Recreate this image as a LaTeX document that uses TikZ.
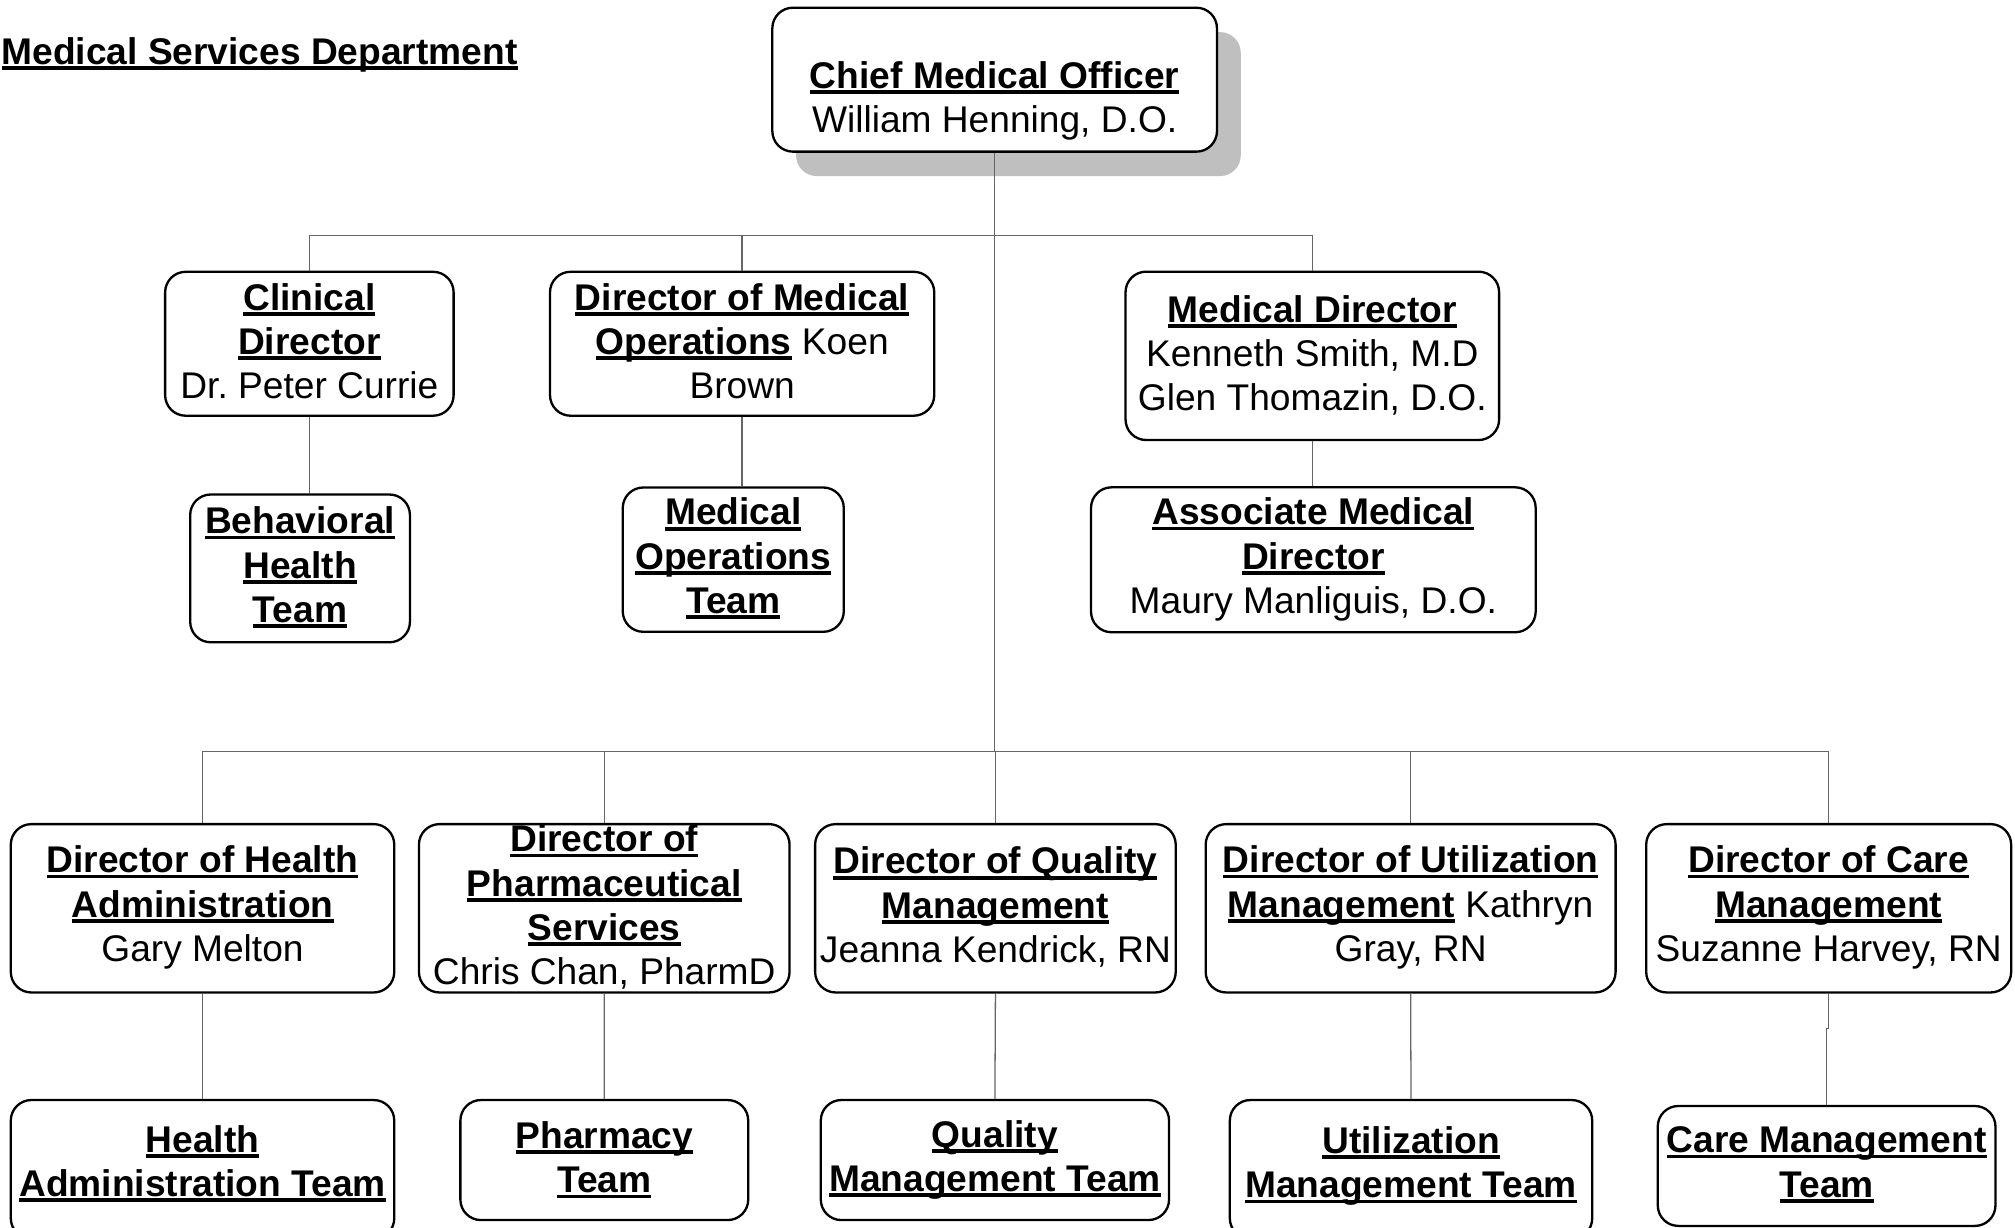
\documentclass[tikz,border=0pt]{standalone}
\usepackage{fontspec}
\setmainfont{Liberation Sans}
\frenchspacing
\newsavebox\ulbox
\newcommand\ulx[1]{\sbox\ulbox{\bfseries #1}\rlap{\rule[-0.15em]{\wd\ulbox}{0.1em}}\usebox\ulbox}
\newcommand\lnstrut{\rule[-3.95pt]{0pt}{34.5pt}}
\begin{document}
\frenchspacing
\begin{tikzpicture}[x=1pt,y=-1pt,
  box/.style={draw=black, line width=1.8pt, rounded corners=16pt, fill=white, inner sep=0pt},
  shadowbox/.style={fill=black!25, rounded corners=16pt, inner sep=0pt},
  txt/.style={inner sep=0pt, align=center, yshift=-2.7pt, font=\fontsize{28.9pt}{34.5pt}\selectfont\frenchspacing,
    execute at begin node={\lnstrut}, execute at end node={\lnstrut}},
  conn/.style={draw=black!60, line width=1pt}]
\clip (0,0) rectangle (1568,955);
\fill[white] (0,0) rectangle (1568,955);

% title
\node[txt, anchor=west] (title) at (1,35.3) {\ulx{Medical Services Department}};

% CMO
\node[shadowbox, minimum width=346, minimum height=112] (cmosh) at (792.5,81) {};
\node[box, minimum width=346, minimum height=112] (cmo) at (774,62) {};
\node[txt] (cmot) at (774,76) {\ulx{Chief Medical Officer}\\William Henning, D.O.};

% second level
\node[box, minimum width=224.5, minimum height=112] (clin) at (240.75,267.5) {};
\node[txt] (clint) at (240.75,264.6) {\ulx{Clinical}\\\ulx{Director}\\Dr. Peter Currie};

\node[box, minimum width=299, minimum height=112] (dmo) at (577.5,267.5) {};
\node[txt] (dmot) at (577.5,264.6) {\ulx{Director of Medical}\\\ulx{Operations} Koen\\Brown};

\node[box, minimum width=290.7, minimum height=131] (meddir) at (1021.2,276.9) {};
\node[txt] (meddirt) at (1021.2,274) {\ulx{Medical Director}\\Kenneth Smith, M.D\\Glen Thomazin, D.O.};

% third level
\node[box, minimum width=171, minimum height=115] (beh) at (233.5,442.3) {};
\node[txt] (beht) at (233.5,438.8) {\ulx{Behavioral}\\\ulx{Health}\\\ulx{Team}};

\node[box, minimum width=172, minimum height=112.3] (mot) at (570.6,435.5) {};
\node[txt] (mott) at (570.6,432) {\ulx{Medical}\\\ulx{Operations}\\\ulx{Team}};

\node[box, minimum width=346, minimum height=112.8] (assoc) at (1022,435.6) {};
\node[txt] (assoct) at (1022,432.8) {\ulx{Associate Medical}\\\ulx{Director}\\Maury Manliguis, D.O.};

% bottom directors
\node[box, minimum width=298.4, minimum height=131] (ha) at (157.6,706.8) {};
\node[txt] (hat) at (157.6,703.4) {\ulx{Director of Health}\\\ulx{Administration}\\Gary Melton};

\node[box, minimum width=288.4, minimum height=131] (ph) at (470.2,706.8) {};
\node[txt] (pht) at (470.2,703.4) {\ulx{Director of}\\\ulx{Pharmaceutical}\\\ulx{Services}\\Chris Chan, PharmD};

\node[box, minimum width=280.6, minimum height=131] (qm) at (774.6,706.8) {};
\node[txt] (qmt) at (774.6,703.4) {\ulx{Director of Quality}\\\ulx{Management}\\Jeanna Kendrick, RN};

\node[box, minimum width=319, minimum height=131] (um) at (1097.7,706.8) {};
\node[txt] (umt) at (1097.7,703.4) {\ulx{Director of Utilization}\\\ulx{Management} Kathryn\\Gray, RN};

\node[box, minimum width=284, minimum height=131] (cm) at (1423,706.8) {};
\node[txt] (cmt) at (1423,703.4) {\ulx{Director of Care}\\\ulx{Management}\\Suzanne Harvey, RN};

% teams
\node[box, minimum width=298.4, minimum height=108] (hateam) at (157.6,910) {};
\node[txt] (hateamt) at (157.6,902.8) {\ulx{Health}\\\ulx{Administration Team}};

\node[box, minimum width=224, minimum height=93.4] (phteam) at (470.25,902.7) {};
\node[txt] (phteamt) at (470.25,899.9) {\ulx{Pharmacy}\\\ulx{Team}};

\node[box, minimum width=271, minimum height=93.4] (qmteam) at (774.2,902.7) {};
\node[txt] (qmteamt) at (774.2,899.9) {\ulx{Quality}\\\ulx{Management Team}};

\node[box, minimum width=282, minimum height=108] (umteam) at (1098,910) {};
\node[txt] (umteamt) at (1098,904.6) {\ulx{Utilization}\\\ulx{Management Team}};

\node[box, minimum width=262.8, minimum height=93.3] (cmteam) at (1421.4,907.3) {};
\node[txt] (cmteamt) at (1421.4,903.7) {\ulx{Care Management}\\\ulx{Team}};

% connectors
\coordinate (busU) at (774,183.4);
\coordinate (busL) at (774,585);
\draw[conn] (cmo.south) -- (busL);
\draw[conn] (clin.north) -- (clin.north |- busU) -- (meddir.north |- busU) -- (meddir.north);
\draw[conn] (dmo.north) -- (dmo.north |- busU);
\draw[conn] (clin.south) -- (clin.south |- beh.north);
\draw[conn] (dmo.south) -- (dmo.south |- mot.north);
\draw[conn] (meddir.south) -- (meddir.south |- assoc.north);
\draw[conn] (ha.north) -- (ha.north |- busL) -- (cm.north |- busL) -- (cm.north);
\draw[conn] (ph.north) -- (ph.north |- busL);
\draw[conn] (qm.north) -- (qm.north |- busL);
\draw[conn] (um.north) -- (um.north |- busL);
\draw[conn] (ha.south) -- (hateam.north);
\draw[conn] (ph.south) -- (phteam.north);
\draw[conn] (qm.south) -- (qmteam.north);
\draw[conn] (um.south) -- (umteam.north);
\draw[conn] (cm.south) -- ++(0,27) -| (cmteam.north);
\end{tikzpicture}
\end{document}
